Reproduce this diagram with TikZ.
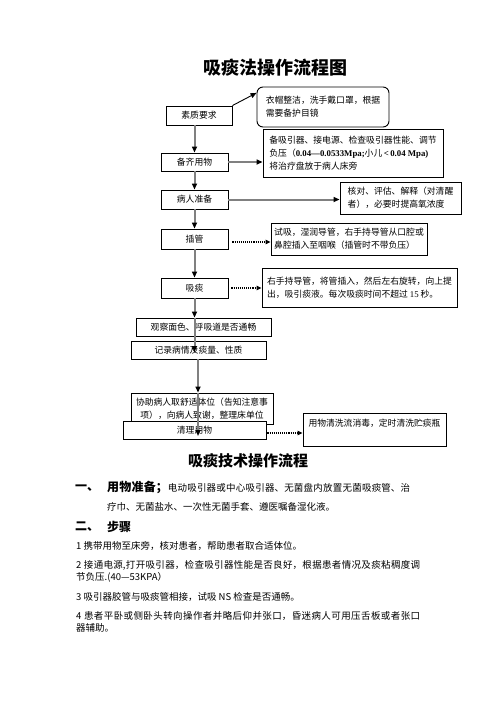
\documentclass[tikz,border=0pt]{standalone}
\usepackage{fontspec}
\setmainfont{Liberation Serif}
\newfontfamily\cjk{Noto Sans CJK SC}
\newfontfamily\lserif{Liberation Serif}
\usetikzlibrary{arrows.meta}
\XeTeXlinebreaklocale "zh"
\XeTeXlinebreakskip=0pt plus 1pt
\tikzset{
  box/.style={draw, line width=0.9pt, inner sep=0pt, fill=white, align=center,
    font=\cjk\fontsize{8.8}{13}\selectfont},
  rbox/.style={box, rounded corners=6pt},
  garrow/.style={draw=black!50, line width=2pt, -{Triangle[length=6pt,width=5pt,color=black]}},
  dotarrow/.style={draw=black, line width=1.1pt, densely dotted, -{Triangle[length=5pt,width=4.5pt]}},
  blkarrow/.style={draw=black, line width=0.9pt, -{Triangle[length=6pt,width=5pt]}},
  para/.style={inner sep=0pt, align=justify, anchor=base west,
    font=\cjk\fontsize{9.5}{12}\selectfont},
  head/.style={inner sep=0pt, font=\cjk\bfseries\fontsize{12}{12}\selectfont}
}
\begin{document}
\begin{tikzpicture}[x=1pt,y=-1pt]
\useasboundingbox (0,0) rectangle (496,702);
% titles
\node[font=\cjk\bfseries\fontsize{18}{18}\selectfont] (t1) at (275,68) {吸痰法操作流程图};
% flowchart boxes
\node[box, minimum width=66pt, minimum height=19pt] (sz) at (199,115.5) {素质要求};
\node[rbox, minimum width=132pt, minimum height=40pt, align=left] (yd) at (323,107) {衣帽整洁，洗手戴口罩，根据\\需要备护目镜};
\node[box, minimum width=67pt, minimum height=18pt] (bq) at (194.5,162) {备齐用物};
\node[box, minimum width=180pt, minimum height=48pt, align=left] (bx) at (353,153) {备吸引器、接电源、检查吸引器性能、调节\\负压（{\lserif\bfseries 0.04—0.0533Mpa;}小儿{\lserif\bfseries \,<\,0.04 Mpa)}\\将治疗盘放于病人床旁};
\node[box, minimum width=67pt, minimum height=19pt] (br) at (194.5,199.5) {病人准备};
\node[box, minimum width=121pt, minimum height=32pt, align=left] (hd) at (400.5,198) {核对、评估、解释（对清醒\\者），必要时提高氧浓度};
\node[box, minimum width=67pt, minimum height=20pt] (cg) at (194.5,239) {插管};
\node[box, minimum width=156pt, minimum height=32pt, align=left] (sx) at (349,239) {试吸，湿润导管，右手持导管从口腔或\\鼻腔插入至咽喉（插管时不带负压）};
\node[box, minimum width=67pt, minimum height=20pt] (xt) at (194.5,288) {吸痰};
\node[box, minimum width=195pt, minimum height=39pt, align=left] (ys) at (359.5,287.5) {右手持导管，将管插入，然后左右旋转，向上提\\出，吸引痰液。每次吸痰时间不超过 {\lserif 15} 秒。};
\node[box, minimum width=135pt, minimum height=18pt] (gc) at (203.5,327) {观察面色、呼吸道是否通畅};
\node[box, minimum width=135pt, minimum height=18pt] (jl) at (198.5,350) {记录病情及痰量、性质};
\node[box, minimum width=142pt, minimum height=31pt] (xz) at (202,408.5) {协助病人取舒适体位（告知注意事\\项），向病人致谢，整理床单位};
\node[box, minimum width=143pt, minimum height=18pt] (ql) at (194.5,430) {清理用物};
\node[box, minimum width=143pt, minimum height=33pt, text height=10pt, text depth=17pt] (yw) at (374.5,429.5) {用物清洗流消毒，定时清洗贮痰瓶};
% connectors
\coordinate (lx) at (198,0);
\draw[blkarrow] (sz.north east) -- (yd.168);
\draw[garrow] (sz.south -| bq.north) -- (bq.north);
\draw[garrow] (bq.east) -- (bq.east -| bx.west);
\draw[garrow] (bq.south) -- (br.north);
\draw[garrow] (br.east) -- (br.east -| hd.west);
\draw[garrow] (br.south) -- (cg.north);
\draw[dotarrow] ([xshift=4pt,yshift=-3pt]cg.east) -- ([yshift=-3pt]cg.east -| sx.west);
\draw[garrow] (cg.south) -- (xt.north);
\draw[dotarrow] ([xshift=3pt]xt.east) -- (xt.east -| ys.west);
\draw[garrow] (xt.south) -- (gc.north -| xt.south);
\draw[garrow] (gc.north -| xt.south) -- ([yshift=-2pt]jl.center -| xt.south);
\draw[garrow] (jl.south -| lx) -- (xz.north -| lx);
\draw[garrow] (xz.north -| lx) -- ([yshift=-6pt]ql.center -| lx);
\draw[dotarrow] ([xshift=1pt,yshift=-3pt]ql.east) -- ([yshift=-3pt]ql.east -| yw.west);
% lower text
\node[font=\cjk\bfseries\fontsize{15}{15}\selectfont] (t2) at (248,461) {吸痰技术操作流程};
\node[head, anchor=west] (h1) at (75,488) {一、};
\node[para, text width=303pt, font=\cjk\fontsize{9.5}{19}\selectfont] (p1) at (107,491.6) {{\fontsize{12}{19}\bfseries 用物准备；}电动吸引器或中心吸引器、无菌盘内放置无菌吸痰管、治\linebreak 疗巾、无菌盐水、一次性无菌手套、遵医嘱备湿化液。};
\node[head, anchor=west] (h2) at (75,527) {二、};
\node[head, anchor=west] (h2t) at (107,527) {步骤};
\node[para, text width=344pt] (s1) at (76,549.6) {1 携带用物至床旁，核对患者，帮助患者取合适体位。};
\node[para, text width=344pt] (s2) at (76,568.6) {2 接通电源,打开吸引器，检查吸引器性能是否良好，根据患者情况及痰粘稠度调\linebreak 节负压.(40—53KPA）};
\node[para, text width=344pt] (s3) at (76,600.6) {3 吸引器胶管与吸痰管相接，试吸 NS 检查是否通畅。};
\node[para, text width=344pt] (s4) at (76,619.6) {4 患者平卧或侧卧头转向操作者并略后仰并张口，昏迷病人可用压舌板或者张口\linebreak 器辅助。};
\end{tikzpicture}
\end{document}
